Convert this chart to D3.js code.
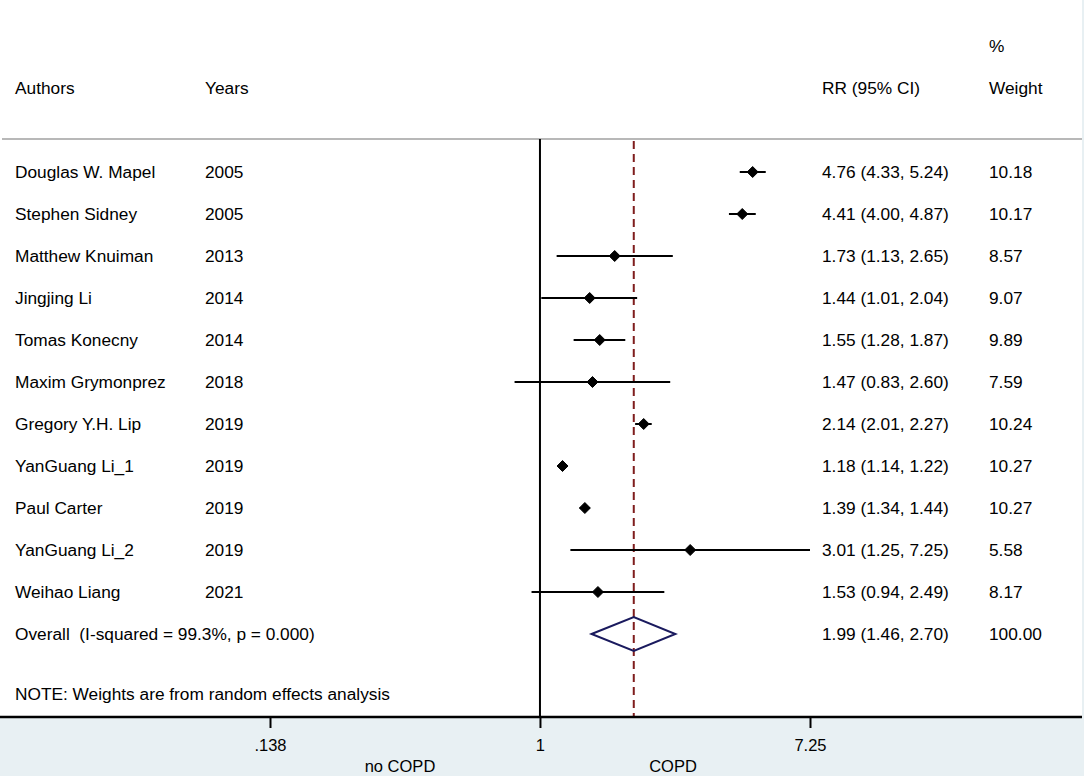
<!DOCTYPE html>
<html>
<head>
<meta charset="utf-8">
<script src="https://cdn.jsdelivr.net/npm/d3@7"></script>
<style>
  html, body { margin: 0; padding: 0; background: #fff; }
  svg { display: block; }
  text { font-family: "Liberation Sans", Arial, sans-serif; fill: #000; }
</style>
</head>
<body>
<div id="graph"></div>
<script>
var authors = ['Douglas W. Mapel', 'Stephen Sidney', 'Matthew Knuiman', 'Jingjing Li', 'Tomas Konecny',
  'Maxim Grymonprez', 'Gregory Y.H. Lip', 'YanGuang Li_1', 'Paul Carter', 'YanGuang Li_2', 'Weihao Liang']
var years = [2005, 2005, 2013, 2014, 2014, 2018, 2019, 2019, 2019, 2019, 2021]
var rr = [4.76, 4.41, 1.73, 1.44, 1.55, 1.47, 2.14, 1.18, 1.39, 3.01, 1.53]
var lo = [4.33, 4.00, 1.13, 1.01, 1.28, 0.83, 2.01, 1.14, 1.34, 1.25, 0.94]
var hi = [5.24, 4.87, 2.65, 2.04, 1.87, 2.60, 2.27, 1.22, 1.44, 7.25, 2.49]
var weights = ['10.18', '10.17', '8.57', '9.07', '9.89', '7.59', '10.24', '10.27', '10.27', '5.58', '8.17']

var overall = {label: 'Overall  (I-squared = 99.3%, p = 0.000)', rr: 1.99, lo: 1.46, hi: 2.70, weight: '100.00'}
var note = 'NOTE: Weights are from random effects analysis'
var xTicks = [0.138, 1, 7.25]
var xTickLabels = ['.138', '1', '7.25']
var sideLabels = ['no COPD', 'COPD']

var f2 = d3.format('.2f')
var rows = authors.map((a, i) => ({a, year: years[i], rr: rr[i], lo: lo[i], hi: hi[i], w: weights[i]}))

var W = 1084, H = 776
var svg = d3.select('#graph').append('svg').attr('width', W).attr('height', H)

// outer band + white plot region
svg.append('rect').attr('width', W).attr('height', H).attr('fill', '#e8f0f3')
var axisY = 717
svg.append('rect').attr('x', 0).attr('y', 0).attr('width', 1082).attr('height', axisY).attr('fill', '#fff')

var x = d3.scaleLog().domain([0.138, 7.25]).range([270, 810])
var y = d3.scaleLinear().domain([0, 1]).range([172, 214])   // row index -> y
var ruleY = 139

var fs = 17.3
var col = {author: 15, year: 205, rr: 822, w: 989}

// header
var hdr = svg.append('g').style('font-size', fs + 'px')
hdr.append('text').attr('x', col.author).attr('y', 94).text('Authors')
hdr.append('text').attr('x', col.year).attr('y', 94).text('Years')
hdr.append('text').attr('x', col.rr).attr('y', 94).text('RR (95% CI)')
hdr.append('text').attr('x', col.w).attr('y', 52).text('%')
hdr.append('text').attr('x', col.w).attr('y', 94).text('Weight')

svg.append('line').attr('x1', 2).attr('x2', 1082).attr('y1', ruleY).attr('y2', ruleY)
  .attr('stroke', '#a0a0a0').attr('stroke-width', 1.5)

// null line and overall dashed line
svg.append('line').attr('x1', x(1)).attr('x2', x(1)).attr('y1', ruleY).attr('y2', axisY)
  .attr('stroke', '#000').attr('stroke-width', 2)
svg.append('line').attr('x1', x(overall.rr)).attr('x2', x(overall.rr)).attr('y1', ruleY + 2).attr('y2', axisY)
  .attr('stroke', '#7f1d1d').attr('stroke-width', 2).attr('stroke-dasharray', '8,5')

// study rows
var rowSel = svg.selectAll('g.row').data(rows).join('g').attr('class', 'row')
  .attr('transform', (d, i) => 'translate(0,' + y(i) + ')')
  .style('font-size', fs + 'px')

rowSel.append('text').attr('x', col.author).attr('dy', '0.36em').text(d => d.a)
rowSel.append('text').attr('x', col.year).attr('dy', '0.36em').text(d => d.year)
rowSel.append('text').attr('x', col.rr).attr('dy', '0.36em')
  .text(d => f2(d.rr) + ' (' + f2(d.lo) + ', ' + f2(d.hi) + ')')
rowSel.append('text').attr('x', col.w).attr('dy', '0.36em').text(d => d.w)

rowSel.append('line').attr('x1', d => x(d.lo)).attr('x2', d => x(d.hi))
  .attr('stroke', '#000').attr('stroke-width', 2)
var m = 5.5
rowSel.append('path')
  .attr('d', d => { var cx = x(d.rr); return 'M' + [cx - m, 0] + 'L' + [cx, -m] + 'L' + [cx + m, 0] + 'L' + [cx, m] + 'Z' })
  .attr('fill', '#000').attr('stroke', '#000').attr('stroke-width', 1).attr('stroke-linejoin', 'round')

// overall row
var oy = y(rows.length)
var og = svg.append('g').attr('transform', 'translate(0,' + oy + ')').style('font-size', fs + 'px')
og.append('text').attr('x', col.author).attr('dy', '0.36em').attr('xml:space', 'preserve').text(overall.label)
og.append('text').attr('x', col.rr).attr('dy', '0.36em')
  .text(f2(overall.rr) + ' (' + f2(overall.lo) + ', ' + f2(overall.hi) + ')')
og.append('text').attr('x', col.w).attr('dy', '0.36em').text(overall.weight)
var dh = 17
og.append('path')
  .attr('d', 'M' + [x(overall.lo), 0] + 'L' + [x(overall.rr), -dh] + 'L' + [x(overall.hi), 0] + 'L' + [x(overall.rr), dh] + 'Z')
  .attr('fill', 'none').attr('stroke', '#1a1a5e').attr('stroke-width', 2)

svg.append('text').attr('x', col.author).attr('y', y(rows.length) + 60).attr('dy', '0.36em')
  .style('font-size', fs + 'px').text(note)

// x axis
var axis = d3.axisBottom(x).tickValues(xTicks).tickFormat((d, i) => xTickLabels[i]).tickSize(11).tickSizeOuter(0)
var ag = svg.append('g').attr('transform', 'translate(0,' + axisY + ')').call(axis)
ag.select('.domain').remove()
ag.append('line').attr('x1', 0).attr('x2', 1082).attr('stroke', '#000').attr('stroke-width', 2.5)
ag.selectAll('.tick line').attr('stroke', '#000').attr('stroke-width', 2)
ag.selectAll('.tick text').attr('y', 22).attr('dy', '0.71em')
  .style('font-size', '16.5px').style('font-family', '"Liberation Sans Narrow", "Liberation Sans", Arial, sans-serif')
  .attr('fill', '#000')

svg.selectAll('text.side').data(sideLabels).join('text').attr('class', 'side')
  .attr('x', (d, i) => i ? 673 : 400).attr('y', 772)
  .attr('text-anchor', 'middle')
  .style('font-size', '16.5px').style('font-family', '"Liberation Sans Narrow", "Liberation Sans", Arial, sans-serif')
  .text(d => d)
</script>
</body>
</html>
